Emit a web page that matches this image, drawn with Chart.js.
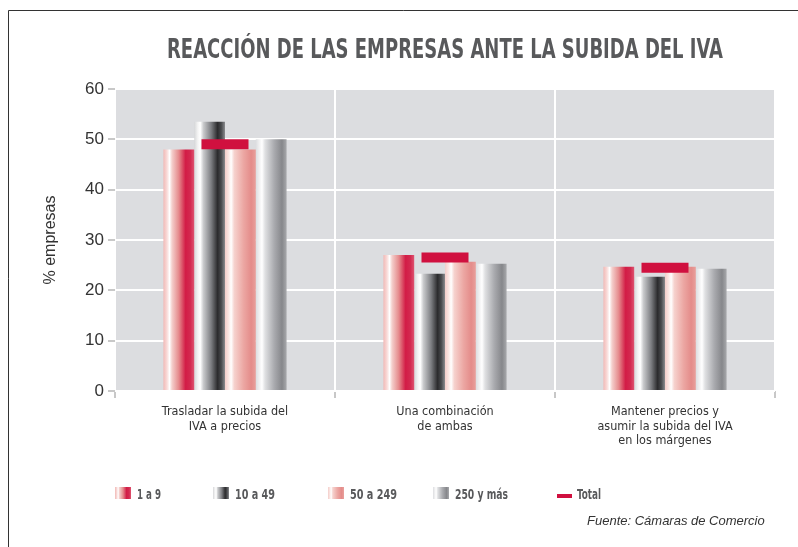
<!DOCTYPE html>
<html>
<head>
<meta charset="utf-8">
<script src="https://cdn.jsdelivr.net/npm/chart.js@4.4.1/dist/chart.umd.min.js"></script>
<style>
  html, body { margin: 0; padding: 0; background: #fff; }
  #wrap { position: relative; width: 798px; height: 547px; }
</style>
</head>
<body>
<div id="wrap"><canvas id="ivaChart"></canvas></div>
<script>
// datos
const chartTitle = "REACCIÓN DE LAS EMPRESAS ANTE LA SUBIDA DEL IVA";
const categories = [
    ["Trasladar la subida del", "IVA a precios"],
    ["Una combinación", "de ambas"],
    ["Mantener precios y", "asumir la subida del IVA", "en los márgenes"]
];
const sizeLabels = ["1 a 9", "10 a 49", "50 a 249", "250 y más"];
const emp1a9 = [48, 27, 24.7];
const emp10a49 = [53.5, 23.3, 22.7];
const emp50a249 = [48, 25.7, 24.7];
const emp250 = [50, 25.3, 24.3];
const totalLabel = "Total";
const total = [49, 26.5, 24.5];
const yMin = 0, yMax = 60, yStep = 10;
const sourceText = "Fuente: Cámaras de Comercio";

const NARROW = "'Liberation Sans Narrow', 'DejaVu Sans Condensed', sans-serif";
const SANS = "'Liberation Sans', Arial, sans-serif";
const RED = "#d0103f";

// degradados tipo "cilindro" de cada serie
const stops = [
    [[0, "#f1b9b6"], [0.12, "#f9dcda"], [0.2, "#ffffff"], [0.28, "#f4cfcc"], [0.5, "#e58a8c"], [0.72, "#d21c46"], [0.88, "#d42a50"], [1, "#de5470"]],
    [[0, "#d6d7d9"], [0.12, "#f4f4f4"], [0.2, "#ffffff"], [0.3, "#c9cacc"], [0.55, "#7d7e82"], [0.76, "#2b2b2d"], [0.88, "#4a4b4e"], [1, "#8a8b8e"]],
    [[0, "#f4cdc9"], [0.12, "#fbe7e4"], [0.2, "#ffffff"], [0.3, "#f6d2ce"], [0.6, "#eca7a3"], [0.85, "#e48c8a"], [1, "#e9a09c"]],
    [[0, "#dcdde0"], [0.12, "#f2f2f3"], [0.2, "#ffffff"], [0.3, "#dfe0e2"], [0.6, "#a9aaae"], [0.85, "#86878b"], [1, "#a8a9ac"]]
];
const baseColors = ["#d21c46", "#2b2b2d", "#e58a8c", "#a9aaae"];

function makeGradient(ctx, x0, x1, list) {
    const g = ctx.createLinearGradient(x0, 0, x1, 0);
    list.forEach(s => g.addColorStop(s[0], s[1]));
    return g;
}

// texto estrecho: se comprime en horizontal para imitar la tipografía condensada
function narrowText(ctx, text, x, y, maxW, align) {
    const w = ctx.measureText(text).width;
    const k = Math.min(1, maxW / w);
    ctx.save();
    ctx.translate(x, y);
    ctx.scale(k, 1);
    ctx.textAlign = align;
    ctx.fillText(text, 0, 0);
    ctx.restore();
    return w * k;
}

const backgroundPlugin = {
    id: "fondo",
    beforeDraw(chart) {
        const { ctx, chartArea: a } = chart;
        ctx.save();
        ctx.fillStyle = "#ffffff";
        ctx.fillRect(0, 0, chart.width, chart.height);
        ctx.fillStyle = "#dcdde0";
        ctx.fillRect(a.left, a.top, a.right - a.left, a.bottom - a.top);
        // marco
        ctx.strokeStyle = "#333333";
        ctx.lineWidth = 1;
        ctx.beginPath();
        ctx.moveTo(8.5, chart.height);
        ctx.lineTo(8.5, 10.5);
        ctx.lineTo(chart.width, 10.5);
        ctx.stroke();
        // titulo
        ctx.font = "bold 26px " + NARROW;
        ctx.fillStyle = "#58595b";
        ctx.textBaseline = "alphabetic";
        narrowText(ctx, chartTitle, (a.left + a.right) / 2, 58, 556, "center");
        ctx.restore();
    }
};

const gradientPlugin = {
    id: "degradados",
    beforeDatasetsDraw(chart) {
        const ctx = chart.ctx;
        for (let i = 0; i < stops.length; i++) {
            chart.getDatasetMeta(i).data.forEach((bar) => {
                const x0 = bar.x - bar.width / 2;
                bar.options.backgroundColor = makeGradient(ctx, x0, x0 + bar.width, stops[i]);
            });
        }
    }
};

const legendPlugin = {
    id: "leyenda",
    afterDraw(chart) {
        const ctx = chart.ctx;
        const boxX = [115, 213, 328, 433];
        const textW = [24, 40, 47, 53];
        ctx.save();
        ctx.font = "bold 14px " + NARROW;
        ctx.textBaseline = "alphabetic";
        sizeLabels.forEach((lab, i) => {
            ctx.fillStyle = makeGradient(ctx, boxX[i], boxX[i] + 16, stops[i]);
            ctx.fillRect(boxX[i], 487, 16, 12);
            ctx.fillStyle = "#58595b";
            narrowText(ctx, lab, boxX[i] + 22, 499, textW[i], "left");
        });
        ctx.strokeStyle = RED;
        ctx.lineWidth = 4;
        ctx.beginPath();
        ctx.moveTo(557, 496);
        ctx.lineTo(572, 496);
        ctx.stroke();
        narrowText(ctx, totalLabel, 577, 499, 24, "left");

        ctx.font = "italic 13px " + SANS;
        ctx.fillStyle = "#333333";
        ctx.fillText(sourceText, 587, 525);
        ctx.restore();
    }
};

function barSet(label, data, i) {
    return {
        type: "bar",
        label: label,
        data: data,
        order: 1,
        backgroundColor: () => baseColors[i],
        borderWidth: 0,
        barPercentage: 1,
        categoryPercentage: 0.56
    };
}

const ctx = document.getElementById("ivaChart").getContext("2d");

new Chart(ctx, {
    type: "bar",
    data: {
        labels: categories,
        datasets: [
            barSet(sizeLabels[0], emp1a9, 0),
            barSet(sizeLabels[1], emp10a49, 1),
            barSet(sizeLabels[2], emp50a249, 2),
            barSet(sizeLabels[3], emp250, 3),
            {
                type: "line",
                label: totalLabel,
                data: total,
                order: 0,
                showLine: false,
                pointStyle: "line",
                pointRadius: 23.5,
                pointHoverRadius: 23.5,
                pointBorderWidth: 10,
                pointHoverBorderWidth: 10,
                pointBorderColor: RED,
                pointBackgroundColor: RED
            }
        ]
    },
    options: {
        responsive: true,
        maintainAspectRatio: false,
        animation: false,
        layout: { autoPadding: false, padding: { top: 89, right: 23, bottom: 0, left: 0 } },
        plugins: {
            legend: { display: false },
            tooltip: { enabled: false }
        },
        scales: {
            x: {
                grid: { color: "#ffffff", lineWidth: 2, tickColor: "#c8c8c8", tickLength: 7 },
                border: { display: false },
                ticks: {
                    color: "#333333",
                    font: { family: NARROW, size: 12.5, lineHeight: 1.15 },
                    maxRotation: 0,
                    autoSkip: false,
                    padding: 7
                },
                afterFit(scale) { scale.height = 156; }
            },
            y: {
                min: yMin,
                max: yMax,
                grid: { color: "#ffffff", lineWidth: 2, tickColor: "#c8c8c8", tickLength: 7 },
                border: { display: false },
                ticks: {
                    stepSize: yStep,
                    color: "#333333",
                    font: { family: SANS, size: 17 },
                    padding: 4
                },
                title: {
                    display: true,
                    text: "% empresas",
                    color: "#333333",
                    font: { family: SANS, size: 16 },
                    padding: { top: 41, bottom: 0 }
                },
                afterFit(scale) { scale.width = 115; }
            }
        }
    },
    plugins: [backgroundPlugin, gradientPlugin, legendPlugin]
});
</script>
</body>
</html>
